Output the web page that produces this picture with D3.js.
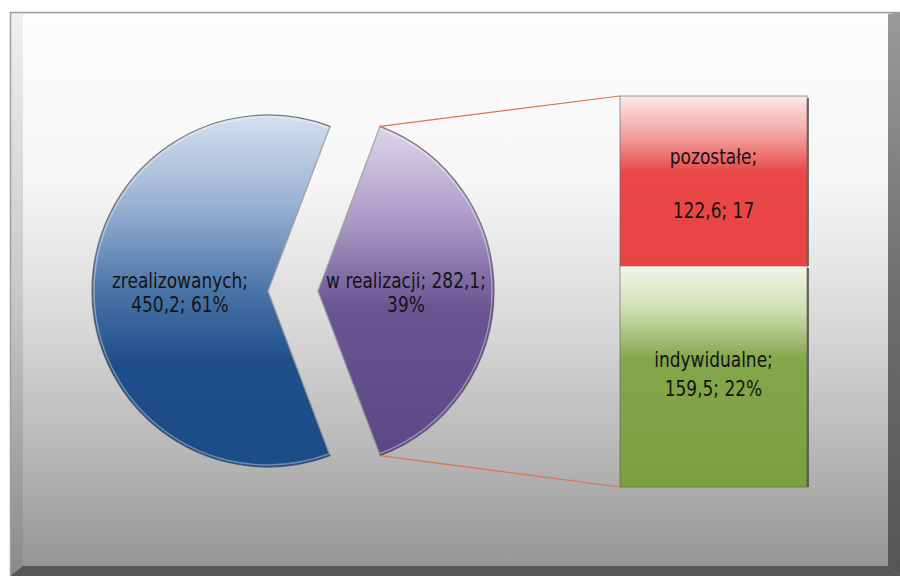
<!DOCTYPE html>
<html>
<head>
<meta charset="utf-8">
<script src="https://cdn.jsdelivr.net/npm/d3@7"></script>
<style>
  html, body { margin: 0; padding: 0; background: #ffffff; }
  svg { display: block; }
  text { font-family: "Liberation Sans Narrow", "DejaVu Sans Condensed", "Liberation Sans", sans-serif; fill: #141414; }
</style>
</head>
<body>
<script>
// Pie: completed vs. in-progress amounts
const pieCategories = ["zrealizowanych", "w realizacji"];
const pieValues = [450.2, 282.1];
const pieLabels = [["zrealizowanych;", "450,2; 61%"], ["w realizacji; 282,1;", "39%"]];

// Stacked bar splitting the "w realizacji" slice
const barCategories = ["pozostałe", "indywidualne"];
const barValues = [122.6, 159.5];
const barLabels = [["pozostałe;", "", "122,6; 17"], ["indywidualne;", "159,5; 22%"]];

const W = 900, H = 576;
const svg = d3.select("body").append("svg").attr("width", W).attr("height", H);
const defs = svg.append("defs");

function vGrad(id, stops) {
  const g = defs.append("linearGradient").attr("id", id)
    .attr("x1", 0).attr("y1", 0).attr("x2", 0).attr("y2", 1);
  stops.forEach(([o, c]) => g.append("stop").attr("offset", o).attr("stop-color", c));
}
vGrad("bg", [[0, "#fdfdfd"], [0.3, "#f6f6f6"], [0.55, "#d9d9d9"], [0.8, "#b4b4b4"], [1, "#939393"]]);
vGrad("leftBevel", [[0, "#f0f0f0"], [0.5, "#c8c8c8"], [1, "#8a8a8a"]]);
vGrad("rightBevel", [[0, "#9a9a9a"], [0.5, "#6e6e6e"], [1, "#555555"]]);
vGrad("blueFill", [[0, "#d3e0ee"], [0.25, "#9ab3d3"], [0.5, "#4a74a8"], [0.7, "#1f4f8a"], [1, "#1c4c86"]]);
vGrad("purpleFill", [[0, "#ddd5ea"], [0.3, "#a896c4"], [0.55, "#6a5593"], [1, "#5d4886"]]);
vGrad("redFill", [[0, "#fbeaea"], [0.25, "#f29a9a"], [0.45, "#ea4747"], [1, "#e94444"]]);
vGrad("greenFill", [[0, "#f1f5ea"], [0.2, "#cfdeb4"], [0.42, "#84a74a"], [1, "#7b9e3f"]]);

// Frame with bevelled edges
const fx0 = 10, fy0 = 12, fx1 = 900, fy1 = 576, bw = 13;
svg.append("rect").attr("x", fx0).attr("y", fy0).attr("width", fx1 - fx0).attr("height", fy1 - fy0)
  .attr("fill", "url(#bg)");
svg.append("path").attr("d", `M${fx0},${fy0} L${fx0 + bw},${fy0 + 2} L${fx0 + bw},${566} L${fx0},${fy1} Z`)
  .attr("fill", "url(#leftBevel)");
svg.append("path").attr("d", `M${fx0},${fy0} L${fx1},${fy0} L${888},${fy0 + 2} L${fx0 + bw},${fy0 + 2} Z`)
  .attr("fill", "#e9e9e9");
svg.append("path").attr("d", `M${fx1},${fy0} L${fx1},${fy1} L${888},${566} L${888},${fy0 + 2} Z`)
  .attr("fill", "url(#rightBevel)");
svg.append("path").attr("d", `M${fx0},${fy1} L${fx0 + bw},${566} L${888},${566} L${fx1},${fy1} Z`)
  .attr("fill", "#575757");
svg.append("path").attr("d", `M${fx0 + 0.5},${fy1} L${fx0 + 0.5},${fy0 + 0.5} L${fx1},${fy0 + 0.5}`)
  .attr("fill", "none").attr("stroke", "#a39d9b").attr("stroke-width", 1.5);

// Multi-line label, horizontally condensed around its anchor
function label(x, y, lines, spacing) {
  const t = svg.append("text").attr("text-anchor", "middle").attr("font-size", 21)
    .attr("transform", `translate(${x},${y}) scale(0.9,1)`);
  lines.forEach((s, k) => {
    t.append("tspan").attr("x", 0).attr("y", (k - (lines.length - 1) / 2) * spacing + 8).text(s);
  });
}

// Pie geometry
const total = d3.sum(pieValues);
const otherSpan = 2 * Math.PI * pieValues[1] / total;
const start = Math.PI / 2 + otherSpan / 2;
const pie = d3.pie().sort(null).startAngle(start).endAngle(start + 2 * Math.PI);
const arcs = pie(pieValues);
const R = 176;
const arc = d3.arc().innerRadius(0).outerRadius(R);
const cx = 293, cy = 291, explode = 25;
const fills = ["url(#blueFill)", "url(#purpleFill)"];

const centers = arcs.map(a => {
  const m = (a.startAngle + a.endAngle) / 2;
  return [cx + explode * Math.sin(m), cy - explode * Math.cos(m)];
});

arcs.forEach((a, i) => {
  const g = svg.append("g").attr("transform", `translate(${centers[i][0]},${centers[i][1]})`);
  g.append("path").attr("d", arc(a)).attr("fill", fills[i])
    .attr("stroke", "#4a4a4a").attr("stroke-opacity", 0.7).attr("stroke-width", 1.2);
  g.append("path").attr("d", d3.arc().innerRadius(0).outerRadius(R - 2)(a))
    .attr("fill", "none").attr("stroke", "#ffffff").attr("stroke-opacity", 0.35).attr("stroke-width", 1.5);
  const c = arc.centroid(a);
  label(centers[i][0] + c[0], centers[i][1] + c[1] + 1, pieLabels[i], 25);
});

// Stacked bar
const barX0 = 620, barX1 = 807, barTop = 96, barBottom = 487;
const y = d3.scaleLinear().domain([0, d3.sum(barValues)]).range([barTop, barBottom]);
const barFills = ["url(#redFill)", "url(#greenFill)"];
const barSpacing = [27, 29];
let acc = 0;
barValues.forEach((v, i) => {
  const y0 = y(acc), y1 = y(acc + v);
  acc += v;
  svg.append("rect").attr("x", barX0).attr("y", y0).attr("width", barX1 - barX0).attr("height", y1 - y0)
    .attr("fill", barFills[i]).attr("stroke", "#5b5b5b").attr("stroke-opacity", 0.6).attr("stroke-width", 1);
  svg.append("line").attr("x1", barX1 + 1).attr("x2", barX1 + 1).attr("y1", y0 + 2).attr("y2", y1)
    .attr("stroke", "#3a3a3a").attr("stroke-opacity", 0.7).attr("stroke-width", 2);
  label((barX0 + barX1) / 2, (y0 + y1) / 2 + (i === 0 ? 2 : -3), barLabels[i], barSpacing[i]);
});

// Connector lines from the split slice to the bar
const other = arcs[1];
const pc = centers[1];
const tipA = [pc[0] + R * Math.sin(other.endAngle), pc[1] - R * Math.cos(other.endAngle)];
const tipB = [pc[0] + R * Math.sin(other.startAngle), pc[1] - R * Math.cos(other.startAngle)];
const topTip = tipA[1] < tipB[1] ? tipA : tipB;
const botTip = tipA[1] < tipB[1] ? tipB : tipA;
svg.append("line").attr("x1", topTip[0]).attr("y1", topTip[1]).attr("x2", barX0).attr("y2", barTop)
  .attr("stroke", "#d9774f").attr("stroke-width", 1.2);
svg.append("line").attr("x1", botTip[0]).attr("y1", botTip[1]).attr("x2", barX0).attr("y2", barBottom)
  .attr("stroke", "#d9774f").attr("stroke-width", 1.2);
</script>
</body>
</html>
